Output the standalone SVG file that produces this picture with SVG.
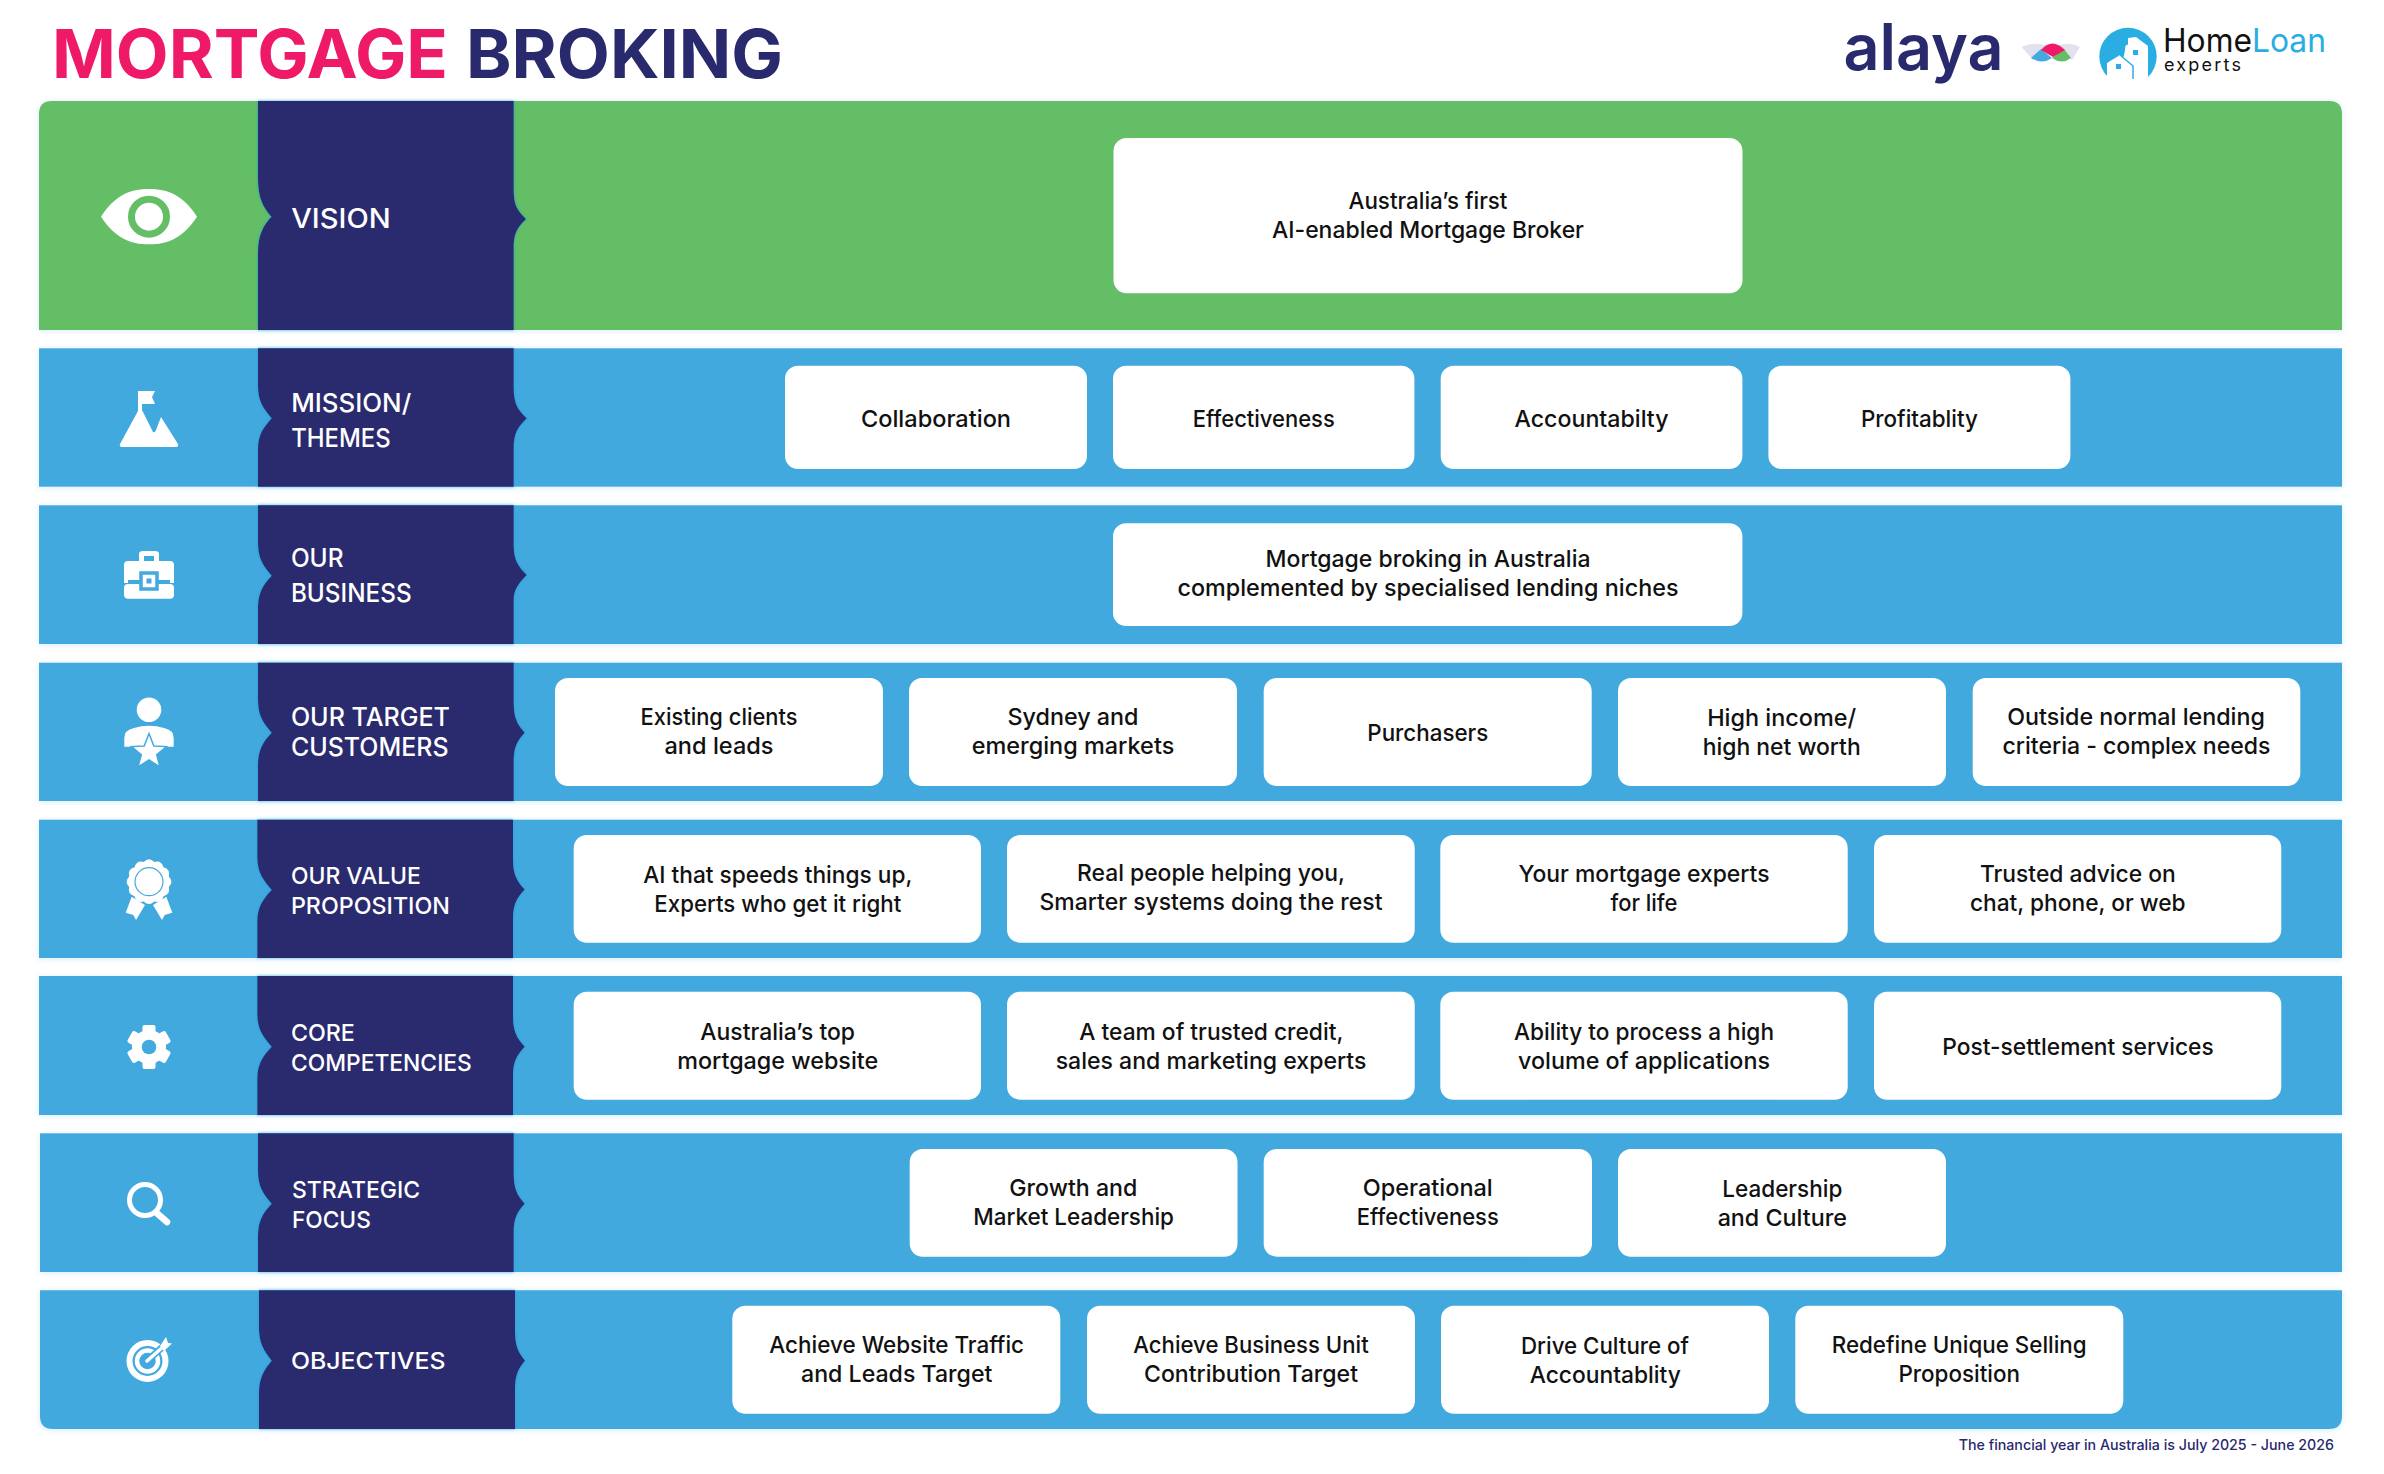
<svg xmlns="http://www.w3.org/2000/svg" width="2384" height="1474" viewBox="0 0 2384 1474">
<style>
text{font-family:Inter,"Open Sans","Liberation Sans",sans-serif}
.g{fill:#63be66}.b{fill:#43a9df}.n{fill:#29296e}
.band{filter:url(#glow)}.tab{fill:#29296e;filter:url(#edge)}
.k{fill:#fff}
.c{font-size:23.5px;fill:#111;text-anchor:middle;font-weight:450;transform:translateY(.8px)}
.l{font-size:25px;fill:#fff;font-weight:500;transform:translateX(-.8px)}
.w{fill:#fff}.bs{fill:none;stroke:#fff}
</style>
<defs>
<filter id="glow" x="-2%" y="-10%" width="104%" height="120%"><feDropShadow dx="0" dy="1" stdDeviation="3" flood-color="#9fd6f3" flood-opacity=".45"/></filter>
<filter id="edge" x="-5%" y="-5%" width="110%" height="110%"><feDropShadow dx="0" dy="0" stdDeviation="1.5" flood-color="#1b9cdc" flood-opacity=".8"/></filter>
</defs>
<rect width="2384" height="1474" fill="#fff"/>

<g id="title">
<text x="52" y="78.3" font-size="67.5" font-weight="700" fill="#ef1a67" textLength="396" lengthAdjust="spacingAndGlyphs">MORTGAGE</text>
<text x="466" y="78.3" font-size="67.5" font-weight="700" fill="#29296e" textLength="317" lengthAdjust="spacingAndGlyphs">BROKING</text>
</g>

<g id="logos">
<text x="1843.5" y="70" font-size="64" font-weight="600" fill="#29296e" textLength="160" lengthAdjust="spacingAndGlyphs">alaya</text>
<path d="M2021.6,47 Q2034,41 2047,46 L2042,52 L2033,60 Z" fill="#e2e2ef"/>
<path d="M2080,47 Q2068,41 2058,46 L2063,52 L2072,60 Z" fill="#e2e2ef"/>
<path d="M2041,49 L2052,58 Q2042,65 2031,58 Z" fill="#43a9df"/>
<path d="M2064,49 L2052,58 Q2062,65 2071,58 Z" fill="#63be66"/>
<path d="M2041,50 Q2052,37 2065,50 L2053,57 Z" fill="#ef1a67"/>
<path d="M2108,77 A28.7,28.7 0 1 1 2148,77 Z" fill="#2aade3"/>
<path d="M2126,78 V68 L2121,62 Q2124,58 2125,50 Q2125,44 2128,45 V38 L2136,37 L2148,46 V78 Z" class="w"/>
<path d="M2107,77 V63 L2120,55 L2133,66 V79 H2107 Z" class="w"/>
<path d="M2120,55 L2133,66 V79" fill="none" stroke="#2aade3" stroke-width="1.5"/>
<rect x="2133" y="50" width="5" height="5" fill="#2aade3"/>
<rect x="2116" y="64" width="5" height="5" fill="#2aade3"/>
<text x="2163" y="52.3" font-size="33" fill="#111" font-family="Open Sans" textLength="163" lengthAdjust="spacingAndGlyphs">Home<tspan fill="#2aade3">Loan</tspan></text>
<text x="2164" y="71" font-size="18" fill="#111" font-family="Open Sans" textLength="77">experts</text>
</g>

<g id="vision">
<path class="g band" d="M39,330 V114 Q39,101 52,101 H2329 Q2342,101 2342,114 V330 Z"/>
<path class="tab" d="M258,101 H513.7 V189 C513.7,205 517,210 526,219 C517,228 513.7,233 513.7,249 V330 H258 V253 C258,235 263,226 271.5,216.7 C263,207 258,198 258,177 Z"/>
<path class="w" d="M101,216.7 C115,195 130,189 149,189 C168,189 183,195 197,216.7 C183,238 168,244.3 149,244.3 C130,244.3 115,238 101,216.7 Z"/>
<circle cx="149" cy="216.7" r="17.5" fill="#fff" stroke="#63be66" stroke-width="7"/>
<text class="l" x="292" y="228.3" font-size="27" style="font-size:27px" textLength="99.5" lengthAdjust="spacingAndGlyphs">VISION</text>
<rect class="k" x="1113.5" y="138" width="629" height="155.3" rx="13"/>
<text class="c" x="1428" y="208.3" textLength="159" lengthAdjust="spacingAndGlyphs">Australia’s first</text>
<text class="c" x="1428" y="237.3" textLength="312" lengthAdjust="spacingAndGlyphs">AI-enabled Mortgage Broker</text>
</g>

<g id="mission">
<rect class="b band" x="39" y="348.3" width="2303" height="138.4"/>
<path class="tab" d="M258,348.3 H513.7 V388 C513.7,404 518,410 526.7,418.3 C518,427 513.7,433 513.7,448 V486.7 H258 V450 C258,434 264,427 271.7,418.3 C264,409 258,402 258,386 Z"/>
<path class="w" d="M138,391 H155 L152,397 L155,404 H142 V410 L153,432 Q155,433 156,430 L161,417 L178,444 Q179,447 176,447 H122 Q119,447 120,444 L138,411 Z"/>
<text class="l" x="292" y="412.3" textLength="120" lengthAdjust="spacingAndGlyphs">MISSION/</text>
<text class="l" x="292" y="446.7" textLength="99.5" lengthAdjust="spacingAndGlyphs">THEMES</text>
<rect class="k" x="785" y="365.7" width="302" height="103.3" rx="13"/>
<text class="c" x="936" y="426" textLength="150" lengthAdjust="spacingAndGlyphs">Collaboration</text>
<rect class="k" x="1113" y="365.7" width="301.4" height="103.3" rx="13"/>
<text class="c" x="1263.8" y="426" textLength="142" lengthAdjust="spacingAndGlyphs">Effectiveness</text>
<rect class="k" x="1440.7" y="365.7" width="301.7" height="103.3" rx="13"/>
<text class="c" x="1591.5" y="426" textLength="154" lengthAdjust="spacingAndGlyphs">Accountabilty</text>
<rect class="k" x="1768.4" y="365.7" width="302" height="103.3" rx="13"/>
<text class="c" x="1919.4" y="426" textLength="117" lengthAdjust="spacingAndGlyphs">Profitablity</text>
</g>

<g id="business">
<rect class="b band" x="39" y="505.3" width="2303" height="138.7"/>
<path class="tab" d="M258,505.3 H513.7 V545 C513.7,560 518,566 526.7,575 C518,584 513.7,590 513.7,600 V644 H258 V608 C258,593 263,585 271.7,575.7 C263,566 258,558 258,543 Z"/>
<rect class="w" x="124" y="561" width="50" height="19" rx="4"/>
<rect class="w" x="124" y="584" width="50" height="14.7" rx="4"/>
<rect class="w" x="124" y="575" width="4" height="8"/><rect class="w" x="170" y="575" width="4" height="8"/>
<path class="bs" d="M141.5,561 V554 Q141.5,553.5 143,553.5 H155 Q156.5,553.5 156.5,554 V561" stroke-width="5"/>
<rect x="141" y="573" width="16" height="16" fill="#fff" stroke="#43a9df" stroke-width="3.5"/>
<rect x="146.5" y="578.5" width="5" height="5" fill="#43a9df"/>
<text class="l" x="291.7" y="567.3" textLength="52.6" lengthAdjust="spacingAndGlyphs">OUR</text>
<text class="l" x="291.7" y="602" textLength="120.7" lengthAdjust="spacingAndGlyphs">BUSINESS</text>
<rect class="k" x="1113" y="523.3" width="629.4" height="102.7" rx="13"/>
<text class="c" x="1428" y="566.7" textLength="325" lengthAdjust="spacingAndGlyphs">Mortgage broking in Australia</text>
<text class="c" x="1428" y="595.7" textLength="501" lengthAdjust="spacingAndGlyphs">complemented by specialised lending niches</text>
</g>

<g id="customers">
<rect class="b band" x="39" y="662.7" width="2303" height="138.3"/>
<path class="tab" d="M258,662.7 H513.7 V702 C513.7,718 517,724 524.7,732.7 C517,741 513.7,747 513.7,762 V801 H258 V765 C258,750 263,742 271.7,732.7 C263,723 258,715 258,700 Z"/>
<circle class="w" cx="149" cy="709.7" r="12.3"/>
<path class="w" d="M124.3,746.7 V738 Q124.3,730 134,728 Q149,723.5 164,728 Q173.7,730 173.7,738 V746.7 Z"/>
<path fill="#fff" stroke="#43a9df" stroke-width="1.5" d="M149,733.5 L153.8,746 L166.5,746.6 L156.7,754.8 L160,767 L149,760 L138,767 L141.3,754.8 L131.5,746.6 L144.2,746 Z"/>
<text class="l" x="291.7" y="726" textLength="159" lengthAdjust="spacingAndGlyphs">OUR TARGET</text>
<text class="l" x="291.7" y="755.7" textLength="157.7" lengthAdjust="spacingAndGlyphs">CUSTOMERS</text>
<rect class="k" x="555" y="678" width="328" height="108" rx="13"/>
<text class="c" x="719" y="724" textLength="157" lengthAdjust="spacingAndGlyphs">Existing clients</text>
<text class="c" x="719" y="753" textLength="109" lengthAdjust="spacingAndGlyphs">and leads</text>
<rect class="k" x="909" y="678" width="328" height="108" rx="13"/>
<text class="c" x="1073" y="724" textLength="131" lengthAdjust="spacingAndGlyphs">Sydney and</text>
<text class="c" x="1073" y="753" textLength="202.6" lengthAdjust="spacingAndGlyphs">emerging markets</text>
<rect class="k" x="1263.7" y="678" width="328" height="108" rx="13"/>
<text class="c" x="1427.8" y="740" textLength="121" lengthAdjust="spacingAndGlyphs">Purchasers</text>
<rect class="k" x="1618" y="678" width="328" height="108" rx="13"/>
<text class="c" x="1781.7" y="725" textLength="149" lengthAdjust="spacingAndGlyphs">High income/</text>
<text class="c" x="1781.7" y="754.3" textLength="158" lengthAdjust="spacingAndGlyphs">high net worth</text>
<rect class="k" x="1972.7" y="678" width="327.6" height="108" rx="13"/>
<text class="c" x="2136" y="724" textLength="257.7" lengthAdjust="spacingAndGlyphs">Outside normal lending</text>
<text class="c" x="2136.5" y="753" textLength="268" lengthAdjust="spacingAndGlyphs">criteria - complex needs</text>
</g>

<g id="value">
<rect class="b band" x="39" y="819.7" width="2303" height="138.3"/>
<path class="tab" d="M257.3,819.7 H513 V859 C513,875 517,881 524.7,889.5 C517,898 513,904 513,919 V958 H257.3 V922 C257.3,907 263,899 271.7,890 C263,880 257.3,872 257.3,857 Z"/>
<g transform="translate(149,881.7)"><path class="w" d="M19.8,-5.3 Q25,0 19.8,5.3 Q21.7,12.5 14.5,14.5 Q12.5,21.7 5.3,19.8 Q0,25 -5.3,19.8 Q-12.5,21.7 -14.5,14.5 Q-21.7,12.5 -19.8,5.3 Q-25,0 -19.8,-5.3 Q-21.7,-12.5 -14.5,-14.5 Q-12.5,-21.7 -5.3,-19.8 Q0,-25 5.3,-19.8 Q12.5,-21.7 14.5,-14.5 Q21.7,-12.5 19.8,-5.3 Z"/><circle r="14" fill="#fff" stroke="#43a9df" stroke-width="1.2"/></g>
<path class="w" d="M131.7,896.7 L145,905 L136,920 L133.3,915 L125.7,912.7 Z M166.3,896.7 L153,905 L162,920 L164.7,915 L172.3,912.7 Z"/>
<text class="l" x="291.7" y="884" style="font-size:23.5px" textLength="130" lengthAdjust="spacingAndGlyphs">OUR VALUE</text>
<text class="l" x="291.7" y="914" style="font-size:23.5px" textLength="159" lengthAdjust="spacingAndGlyphs">PROPOSITION</text>
<rect class="k" x="573.7" y="835" width="407.3" height="107.7" rx="13"/>
<text class="c" x="777.8" y="882.3" textLength="269" lengthAdjust="spacingAndGlyphs">AI that speeds things up,</text>
<text class="c" x="777.8" y="911.3" textLength="247" lengthAdjust="spacingAndGlyphs">Experts who get it right</text>
<rect class="k" x="1007" y="835" width="407.7" height="107.7" rx="13"/>
<text class="c" x="1211" y="880.3" textLength="268" lengthAdjust="spacingAndGlyphs">Real people helping you,</text>
<text class="c" x="1211" y="909.3" textLength="343" lengthAdjust="spacingAndGlyphs">Smarter systems doing the rest</text>
<rect class="k" x="1440.3" y="835" width="407.4" height="107.7" rx="13"/>
<text class="c" x="1644" y="881.3" textLength="251" lengthAdjust="spacingAndGlyphs">Your mortgage experts</text>
<text class="c" x="1644" y="910.3" textLength="67" lengthAdjust="spacingAndGlyphs">for life</text>
<rect class="k" x="1874" y="835" width="407.3" height="107.7" rx="13"/>
<text class="c" x="2077.8" y="881.3" textLength="195.7" lengthAdjust="spacingAndGlyphs">Trusted advice on</text>
<text class="c" x="2077.8" y="910.3" textLength="215.7" lengthAdjust="spacingAndGlyphs">chat, phone, or web</text>
</g>

<g id="competencies">
<rect class="b band" x="39" y="976" width="2303" height="139"/>
<path class="tab" d="M257.3,976 H513 V1016 C513,1032 517,1038 524.7,1046.7 C517,1055 513,1061 513,1076 V1115 H257.3 V1079 C257.3,1064 263,1056 271.7,1046.7 C263,1037 257.3,1029 257.3,1014 Z"/>
<g transform="translate(149,1047)"><circle r="17" class="w"/><rect class="w" x="-6.5" y="-22" width="13" height="44" rx="2"/><rect class="w" x="-6.5" y="-22" width="13" height="44" rx="2" transform="rotate(60)"/><rect class="w" x="-6.5" y="-22" width="13" height="44" rx="2" transform="rotate(120)"/><circle r="7.3" fill="#43a9df"/></g>
<text class="l" x="291.7" y="1041" style="font-size:23.5px" textLength="64" lengthAdjust="spacingAndGlyphs">CORE</text>
<text class="l" x="291.7" y="1070.7" style="font-size:23.5px" textLength="181" lengthAdjust="spacingAndGlyphs">COMPETENCIES</text>
<rect class="k" x="573.7" y="991.7" width="407.3" height="108" rx="13"/>
<text class="c" x="777.7" y="1039.3" textLength="154.7" lengthAdjust="spacingAndGlyphs">Australia’s top</text>
<text class="c" x="777.7" y="1068.3" textLength="201" lengthAdjust="spacingAndGlyphs">mortgage website</text>
<rect class="k" x="1007" y="991.7" width="407.7" height="108" rx="13"/>
<text class="c" x="1211.3" y="1039.3" textLength="264" lengthAdjust="spacingAndGlyphs">A team of trusted credit,</text>
<text class="c" x="1211" y="1068.3" textLength="310.7" lengthAdjust="spacingAndGlyphs">sales and marketing experts</text>
<rect class="k" x="1440.3" y="991.7" width="407.4" height="108" rx="13"/>
<text class="c" x="1644" y="1039.3" textLength="260" lengthAdjust="spacingAndGlyphs">Ability to process a high</text>
<text class="c" x="1644" y="1068.3" textLength="252" lengthAdjust="spacingAndGlyphs">volume of applications</text>
<rect class="k" x="1874" y="991.7" width="407.3" height="108" rx="13"/>
<text class="c" x="2078" y="1054.3" textLength="271.4" lengthAdjust="spacingAndGlyphs">Post-settlement services</text>
</g>

<g id="focus">
<rect class="b band" x="40" y="1133.3" width="2302" height="138.7"/>
<path class="tab" d="M258,1133.3 H513.7 V1173 C513.7,1189 517,1195 524.7,1203.7 C517,1212 513.7,1218 513.7,1233 V1272 H258 V1236 C258,1221 263,1213 271.7,1203.7 C263,1194 258,1186 258,1171 Z"/>
<circle class="bs" cx="145" cy="1200" r="15.5" stroke-width="5"/>
<path class="bs" d="M156.7,1213 L167,1222" stroke-width="6.5" stroke-linecap="round"/>
<text class="l" x="292.7" y="1197.7" style="font-size:23.5px" textLength="128.3" lengthAdjust="spacingAndGlyphs">STRATEGIC</text>
<text class="l" x="292.7" y="1227.7" style="font-size:23.5px" textLength="79" lengthAdjust="spacingAndGlyphs">FOCUS</text>
<rect class="k" x="909.7" y="1149" width="327.8" height="107.7" rx="13"/>
<text class="c" x="1073.3" y="1195" textLength="128" lengthAdjust="spacingAndGlyphs">Growth and</text>
<text class="c" x="1073.6" y="1224" textLength="200.7" lengthAdjust="spacingAndGlyphs">Market Leadership</text>
<rect class="k" x="1263.7" y="1149" width="328.3" height="107.7" rx="13"/>
<text class="c" x="1427.8" y="1195" textLength="130" lengthAdjust="spacingAndGlyphs">Operational</text>
<text class="c" x="1427.8" y="1224" textLength="142" lengthAdjust="spacingAndGlyphs">Effectiveness</text>
<rect class="k" x="1618" y="1149" width="328" height="107.7" rx="13"/>
<text class="c" x="1782.3" y="1196" textLength="120" lengthAdjust="spacingAndGlyphs">Leadership</text>
<text class="c" x="1782.3" y="1225" textLength="129.3" lengthAdjust="spacingAndGlyphs">and Culture</text>
</g>

<g id="objectives">
<path class="b band" d="M40,1290.3 H2342 V1416 Q2342,1429 2329,1429 H53 Q40,1429 40,1416 Z"/>
<path class="tab" d="M259,1290.3 H515 V1330 C515,1346 518,1352 525,1360.7 C518,1369 515,1375 515,1390 V1429 H259 V1393 C259,1378 264,1370 271.7,1360.7 C264,1351 259,1343 259,1328 Z"/>
<circle class="bs" cx="147.5" cy="1361" r="18" stroke-width="6"/>
<circle class="bs" cx="147.5" cy="1361" r="10.5" stroke-width="4.5"/>
<path d="M147,1361 L168,1342" stroke="#43a9df" stroke-width="7" fill="none"/>
<path class="bs" d="M147,1361 L164,1346" stroke-width="3.5" stroke-linecap="round"/>
<path class="w" d="M160,1346 L166,1337 L168,1343 L172,1343.5 L164,1351 Z"/>
<text class="l" x="291.7" y="1369" style="font-size:23.5px" textLength="154.7" lengthAdjust="spacingAndGlyphs">OBJECTIVES</text>
<rect class="k" x="732.3" y="1305.7" width="328" height="108" rx="13"/>
<text class="c" x="896.7" y="1352.3" textLength="254.7" lengthAdjust="spacingAndGlyphs">Achieve Website Traffic</text>
<text class="c" x="896.7" y="1381.3" textLength="191.3" lengthAdjust="spacingAndGlyphs">and Leads Target</text>
<rect class="k" x="1087" y="1305.7" width="328" height="108" rx="13"/>
<text class="c" x="1251" y="1352.3" textLength="235.4" lengthAdjust="spacingAndGlyphs">Achieve Business Unit</text>
<text class="c" x="1251" y="1381.3" textLength="214" lengthAdjust="spacingAndGlyphs">Contribution Target</text>
<rect class="k" x="1441" y="1305.7" width="328" height="108" rx="13"/>
<text class="c" x="1605" y="1353.3" textLength="168" lengthAdjust="spacingAndGlyphs">Drive Culture of</text>
<text class="c" x="1605.3" y="1382.3" textLength="151.3" lengthAdjust="spacingAndGlyphs">Accountablity</text>
<rect class="k" x="1795.3" y="1305.7" width="328" height="108" rx="13"/>
<text class="c" x="1959.2" y="1352.3" textLength="255" lengthAdjust="spacingAndGlyphs">Redefine Unique Selling</text>
<text class="c" x="1959.2" y="1381.7" textLength="121.6" lengthAdjust="spacingAndGlyphs">Proposition</text>
</g>

<text id="footnote" x="1958.7" y="1450" font-size="14.5" font-weight="450" fill="#29296e" textLength="375.3" lengthAdjust="spacingAndGlyphs">The financial year in Australia is July 2025 - June 2026</text>
</svg>
